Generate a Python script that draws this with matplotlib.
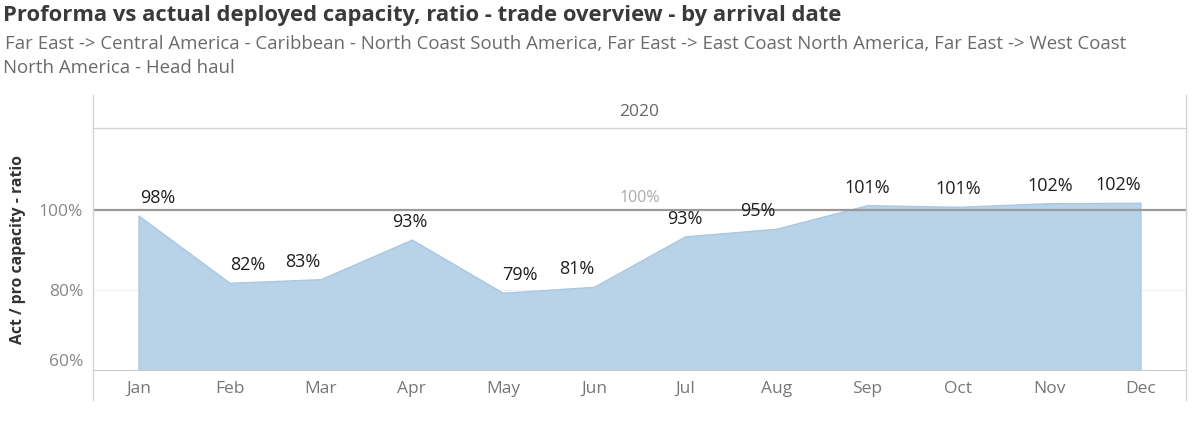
import numpy as np
import matplotlib.pyplot as plt
from matplotlib.lines import Line2D

#%% datos
months = ['Jan', 'Feb', 'Mar', 'Apr', 'May', 'Jun', 'Jul', 'Aug', 'Sep', 'Oct', 'Nov', 'Dec']
ratio = [98.6, 81.8, 82.7, 92.6, 79.3, 80.8, 93.4, 95.3, 101.2, 100.8, 101.7, 101.8]
labels = ['98%', '82%', '83%', '93%', '79%', '81%', '93%', '95%', '101%', '101%', '102%', '102%']
yticks = [60, 80, 100]
year = '2020'

# desplazamiento horizontal de etiquetas (px), como lo hace tableau
label_dx = [19, 18, -18, -2, 17, -17, 0, -18, 0, 0, 1, -22]

plt.rcParams['font.family'] = ['Open Sans', 'DejaVu Sans']

W, H = 1200, 430
fig = plt.figure(figsize=(12, 4.3), dpi=100)

def fx(px):
    return px / W

def fy(py):
    return 1 - py / H

x0, x1 = 93, 1186
ax = fig.add_axes([fx(x0), fy(370), fx(x1 - x0), fy(128) - fy(370)])
xx = np.arange(len(months))
ax.fill_between(xx, 60, ratio, color='#b8d2e8', lw=1, edgecolor='#a9c8e2', zorder=2)
ax.axhline(100, color='#9a9a9a', lw=1.6, zorder=3)
ax.axhline(80, color='#f0f0f0', lw=0.8, zorder=1)
ax.text(5.5, 100.9, '100%', color='#aaaaaa', fontsize=11.5, ha='center', va='bottom')
for i, v in enumerate(ratio):
    ax.annotate(labels[i], (i, v), xytext=(label_dx[i] * 0.72, 6), textcoords='offset points',
                ha='center', va='bottom', fontsize=13, color='#1e1e1e', zorder=4)

ax.set_xlim(-0.5, 11.5)
ax.set_ylim(60, 120.5)
ax.set_xticks(xx)
ax.set_xticklabels(months, color='#777777', fontsize=12.5)
ax.set_yticks(yticks)
ax.set_yticklabels([f'{t}%' for t in yticks], color='#888888', fontsize=12.5)
ax.get_yticklabels()[0].set_va('bottom')
ax.tick_params(axis='both', length=0, pad=7)
ax.tick_params(axis='x', pad=8)
for s in ['top', 'right', 'left']:
    ax.spines[s].set_visible(False)
ax.spines['bottom'].set_color('#cccccc')
ax.set_ylabel('Act / pro capacity - ratio', fontsize=11.3, fontweight='bold', color='#333333', labelpad=9)

# marco estilo tableau
lc = '#d4d4d4'
fig.add_artist(Line2D([fx(x0), fx(x0)], [fy(95), fy(400)], color=lc, lw=1))
fig.add_artist(Line2D([fx(x1), fx(x1)], [fy(95), fy(400)], color=lc, lw=1))
fig.add_artist(Line2D([fx(x0), fx(x1)], [fy(128), fy(128)], color=lc, lw=1))
fig.text(fx((x0 + x1) / 2), fy(112), year, ha='center', va='center', fontsize=12.5, color='#666666')

# titulos
fig.text(fx(3), fy(15), 'Proforma vs actual deployed capacity, ratio - trade overview - by arrival date',
         fontsize=15.8, fontweight='bold', color='#3a3a3a', va='center')
fig.text(fx(5), fy(44), 'Far East -> Central America - Caribbean - North Coast South America, Far East -> East Coast North America, Far East -> West Coast',
         fontsize=13.4, color='#6a6a6a', va='center')
fig.text(fx(3), fy(68), 'North America - Head haul', fontsize=13.4, color='#6a6a6a', va='center')

fig.savefig('out.png', dpi=100)
